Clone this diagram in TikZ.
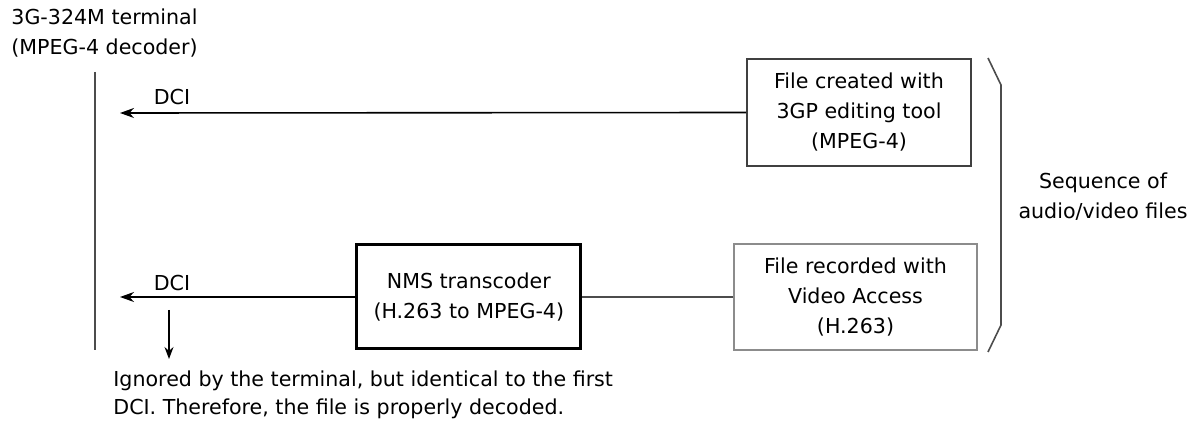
\documentclass[tikz,border=0pt]{standalone}
\usepackage{fontspec}
\setmainfont{DejaVu Sans}
\usetikzlibrary{arrows.meta,positioning}

\begin{document}
\begin{tikzpicture}[
    x=0.5pt, y=-0.5pt,
    font=\fontsize{10.3}{15}\selectfont,
    filebox/.style={
    draw=black!75,
    line width=1pt,
    align=center,
    inner sep=0pt,
    minimum width=112pt,
    minimum height=53.5pt},
    nmsbox/.style={
    draw=black,
    line width=1.5pt,
    align=center,
    inner sep=0pt,
    minimum width=112pt,
    minimum height=52pt},
    sigarrow/.style={-{Stealth[length=7pt,width=5pt]},line width=0.8pt},
    plainline/.style={draw=black!70,line width=0.9pt},
    lbl/.style={inner sep=0pt,align=left},
    node distance=75.5pt
    ]
    \useasboundingbox (0,0) rectangle (1195,427);

    % terminal side
    \node[lbl, anchor=north west] (term) at (11,8) {3G-324M terminal\\(MPEG-4 decoder)};
    \coordinate (lifeTop) at (95,72);
    \coordinate (lifeBot) at (95,350);
    \draw[plainline] (lifeTop) -- (lifeBot);

    % file boxes
    \node[filebox] (made) at (859,112.5) {File created with\\3GP editing tool\\(MPEG-4)};
    \node[filebox, draw=black!45, line width=0.7pt, minimum width=121.5pt, minimum height=53pt]
        (rec) at (855.5,297) {File recorded with\\Video Access\\(H.263)};
    \node[nmsbox, left=of rec] (nms) {NMS transcoder\\(H.263 to MPEG-4)};

    % signals
    \coordinate (tipA) at (120,113);
    \coordinate (tipB) at (120,297);
    \draw[sigarrow] (made.west) -- (tipA);
    \draw[sigarrow] (nms.west) -- (tipB);
    \draw[plainline] (rec.west) -- (nms.east);
    \node[lbl] (dciA) at (172,97) {DCI};
    \node[lbl] (dciB) at (172,283) {DCI};

    % note
    \coordinate (dnA) at (169,310);
    \coordinate (dnB) at (169,359);
    \draw[-{Stealth[length=6pt,width=4.5pt]},line width=0.7pt] (dnA) -- (dnB);
    \node[lbl, anchor=north west, font=\fontsize{10.3}{14}\selectfont] (note) at (113,370)
        {Ignored by the terminal, but identical to the first\\DCI. Therefore, the file is properly decoded.};

    % brace
    \draw[plainline, line width=0.8pt] (988,58) -- (1001,85) -- (1001,325) -- (988,352);
    \node[align=center, inner sep=0pt] (seq) at (1103,197) {Sequence of\\audio/video files};
\end{tikzpicture}
\end{document}
